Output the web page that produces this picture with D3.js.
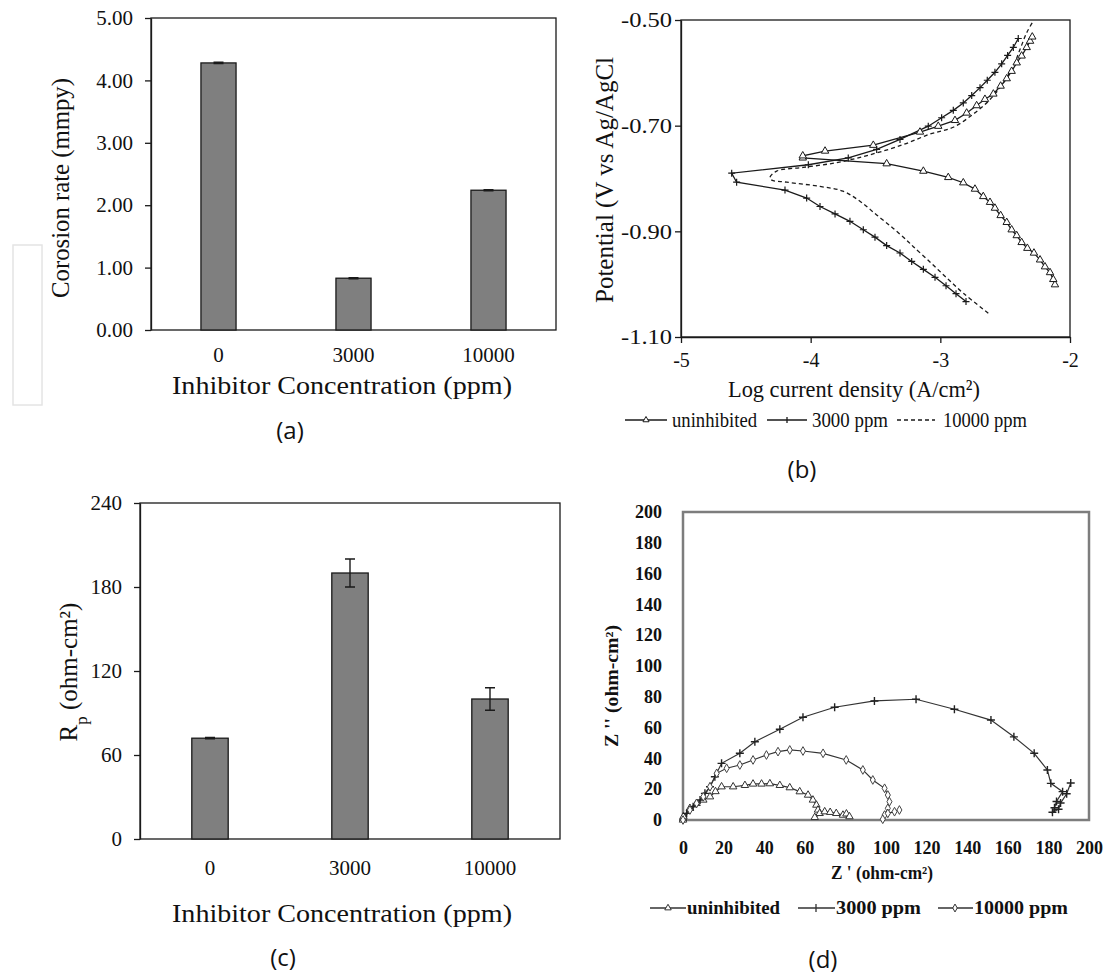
<!DOCTYPE html>
<html>
<head>
<meta charset="utf-8">
<script src="https://cdn.jsdelivr.net/npm/d3@7"></script>
<style>
  body { margin: 0; background: #fff; }
  text { fill: #111; }
</style>
</head>
<body>
<script>
// ---- data ----
const concLabels = ["0", "3000", "10000"];
const corrosionRate = [4.28, 0.83, 2.24];
const corrosionErr = [0.01, 0.01, 0.01];
const corrosionTicks = [0, 1, 2, 3, 4, 5];

const rpValues = [72, 190, 100];
const rpErr = [0.5, 10, 8];
const rpTicks = [0, 60, 120, 180, 240];

// Tafel curves: [log i, E] from cathodic end through Ecorr to anodic end
const tafelUninhibited = [
  [-2.116, -1.001], [-2.129, -0.991], [-2.154, -0.978], [-2.193, -0.967], [-2.231, -0.954],
  [-2.278, -0.941], [-2.329, -0.932], [-2.373, -0.921], [-2.411, -0.908], [-2.450, -0.897],
  [-2.488, -0.883], [-2.535, -0.870], [-2.579, -0.856], [-2.617, -0.845], [-2.669, -0.834],
  [-2.733, -0.820], [-2.823, -0.808], [-2.939, -0.798], [-3.131, -0.786], [-3.414, -0.772],
  [-4.061, -0.761], [-4.061, -0.757], [-3.889, -0.748], [-3.517, -0.737], [-3.157, -0.712],
  [-3.016, -0.701], [-2.887, -0.690], [-2.797, -0.676], [-2.720, -0.662], [-2.656, -0.650],
  [-2.591, -0.640], [-2.535, -0.625], [-2.488, -0.611], [-2.450, -0.597], [-2.411, -0.581],
  [-2.373, -0.568], [-2.334, -0.552], [-2.308, -0.540], [-2.291, -0.532]
];
const tafel3000 = [
  [-2.802, -1.033], [-2.879, -1.018], [-2.956, -1.003], [-3.041, -0.987], [-3.131, -0.972],
  [-3.221, -0.957], [-3.311, -0.941], [-3.414, -0.927], [-3.504, -0.911], [-3.594, -0.897],
  [-3.697, -0.881], [-3.812, -0.867], [-3.928, -0.853], [-4.031, -0.837], [-4.198, -0.822],
  [-4.571, -0.807], [-4.609, -0.790], [-4.018, -0.774], [-3.710, -0.761], [-3.491, -0.745],
  [-3.311, -0.726], [-3.093, -0.701], [-2.990, -0.685], [-2.900, -0.671], [-2.823, -0.657],
  [-2.758, -0.643], [-2.694, -0.628], [-2.638, -0.614], [-2.579, -0.599], [-2.527, -0.583],
  [-2.481, -0.567], [-2.437, -0.552], [-2.399, -0.535]
];
const tafel10000 = [
  [-2.630, -1.055], [-2.823, -1.017], [-2.951, -0.988], [-3.080, -0.958], [-3.208, -0.929],
  [-3.259, -0.917], [-3.365, -0.894], [-3.491, -0.869], [-3.620, -0.843], [-3.751, -0.824],
  [-3.928, -0.815], [-4.185, -0.807], [-4.300, -0.803], [-4.314, -0.798], [-4.262, -0.786],
  [-4.059, -0.779], [-3.799, -0.770], [-3.542, -0.755], [-3.288, -0.736], [-3.080, -0.716],
  [-2.900, -0.703], [-2.746, -0.678], [-2.615, -0.650], [-2.514, -0.619], [-2.437, -0.587],
  [-2.386, -0.556], [-2.334, -0.524], [-2.283, -0.502]
];
const tafelXTicks = [-5, -4, -3, -2];
const tafelYTicks = [-0.5, -0.7, -0.9, -1.1];

// Nyquist curves: [Z', Z'']
const nyqUninhibited = [
  [0, 0], [0.2, 2.2], [3.4, 7.6], [6.7, 10.8], [10, 13], [13.3, 15.1], [16, 18.5], [19, 21.6],
  [24.7, 21.6], [30.5, 22.5], [34.5, 23.4], [38.7, 23.4], [42.8, 23.6], [47.7, 22.5], [52.6, 21],
  [57.5, 18.4], [61.6, 16.2], [64, 13], [65.7, 9.7], [66.5, 6.5], [67.3, 4.3], [64.9, 1.7],
  [69.8, 5.4], [72.5, 5], [75.5, 4.3], [78.8, 3.2], [80.5, 4], [82, 2.2]
];
const nyq3000 = [
  [0, 0], [1.8, 4.3], [5, 8.6], [8.4, 13], [10.8, 17.3], [13.3, 21.6], [15.7, 28.1], [19, 36.8],
  [28, 43.3], [35.4, 50.8], [47.7, 58.9], [59.1, 66.7], [74.7, 73.2], [94.3, 77.3], [114.8, 78.4],
  [133.7, 71.9], [151.7, 64.9], [163, 54], [173, 43.3], [179.5, 32.5], [181.2, 23.8], [187, 18.4],
  [184, 12], [183, 8], [182, 5], [185, 7], [186, 11], [189, 17], [191, 24]
];
const nyq10000 = [
  [0, 0], [3.4, 6.5], [6.7, 10.8], [10, 15.1], [13.3, 21.6], [16.6, 30.3], [21.5, 33.6], [28, 35.7],
  [34.5, 39], [41.1, 42.2], [46.8, 44.4], [52.6, 45.5], [59.1, 44.8], [69, 43.3], [80.4, 39],
  [88.6, 32.5], [93.5, 26], [99.3, 20.6], [100.9, 16.2], [101.7, 11.9], [100.9, 7.6], [99.3, 3.2],
  [98.4, 0.5], [100.9, 4.3], [104.2, 5.4], [106.6, 6.5]
];
const nyqTicks = [0, 20, 40, 60, 80, 100, 120, 140, 160, 180, 200];

const serif = "'Liberation Serif', 'Times New Roman', serif";
const ink = "#1a1a1a";

const svg = d3.select("body").append("svg")
    .attr("width", 1105)
    .attr("height", 976);

// faint artifact box at the left of panel (a)
svg.append("rect")
    .attr("x", 13).attr("y", 245).attr("width", 29).attr("height", 160)
    .attr("fill", "none").attr("stroke", "#e4e4e4").attr("stroke-width", 1.5);

function panelLabel(txt, x, y) {
    svg.append("text")
        .attr("x", x).attr("y", y)
        .attr("text-anchor", "middle")
        .style("font-family", "'Open Sans', sans-serif")
        .style("font-size", "24px")
        .text(txt);
}

// plain centred title, squeezed to the reference width
function title(parent, txt, size, len) {
    return parent.append("text")
        .attr("text-anchor", "middle")
        .style("font-family", serif).style("font-size", size + "px")
        .attr("textLength", len).attr("lengthAdjust", "spacingAndGlyphs")
        .text(txt);
}

// ---- bar panels (a) and (c) ----
function drawBars(box, values, errs, ticks, fmt, cfg) {
    const x = d3.scaleBand().domain(concLabels).range([box.left, box.right]).padding(0);
    const y = d3.scaleLinear().domain([ticks[0], ticks[ticks.length - 1]]).range([box.bottom, box.top]);
    const g = svg.append("g");

    // frame
    g.append("rect")
        .attr("x", box.left).attr("y", box.top)
        .attr("width", box.right - box.left).attr("height", box.bottom - box.top)
        .attr("fill", "none").attr("stroke", ink).attr("stroke-width", 1.3);

    // y axis
    g.append("g")
        .attr("transform", `translate(${box.left},0)`)
        .call(d3.axisLeft(y).tickValues(ticks).tickFormat(fmt).tickSize(6).tickPadding(12).tickSizeOuter(0))
        .call(a => a.select(".domain").attr("stroke", ink).attr("stroke-width", 1.3))
        .call(a => a.selectAll("line").attr("stroke", ink).attr("stroke-width", 1.3))
        .call(a => a.selectAll("text").style("font-family", serif).style("font-size", "21px").attr("fill", "#111"));

    // category labels
    g.append("g")
        .attr("transform", `translate(0,${box.bottom})`)
        .call(d3.axisBottom(x).tickSize(0).tickPadding(cfg.catPad))
        .call(a => a.select(".domain").remove())
        .call(a => a.selectAll("text").style("font-family", serif).style("font-size", "21px").attr("fill", "#111"));

    const bw = x.bandwidth() * 0.26;
    g.selectAll(".bar")
        .data(values)
        .join("rect")
        .attr("x", (d, i) => x(concLabels[i]) + x.bandwidth() / 2 - bw / 2)
        .attr("y", d => y(d))
        .attr("width", bw)
        .attr("height", d => y(0) - y(d))
        .attr("fill", "#7f7f7f")
        .attr("stroke", ink)
        .attr("stroke-width", 1.3);

    // error bars
    values.forEach((v, i) => {
        const cx = x(concLabels[i]) + x.bandwidth() / 2;
        const y1 = y(v + errs[i]), y2 = y(v - errs[i]);
        g.append("path")
            .attr("d", `M${cx},${y1}V${y2}M${cx - 5},${y1}H${cx + 5}M${cx - 5},${y2}H${cx + 5}`)
            .attr("stroke", ink).attr("stroke-width", 1.4).attr("fill", "none");
    });

    // x title
    title(g, "Inhibitor Concentration (ppm)", 26, 340)
        .attr("x", 342).attr("y", cfg.xTitleY);

    // y title
    cfg.yTitle(g);

    panelLabel(cfg.label, cfg.labelX, cfg.labelY);
}

drawBars({left: 151, right: 556, top: 18, bottom: 330},
    corrosionRate, corrosionErr, corrosionTicks, d3.format(".2f"),
    {catPad: 17, xTitleY: 394,
     yTitle: g => title(g, "Corosion rate (mmpy)", 26, 220).attr("transform", "translate(69,188) rotate(-90)"),
     label: "(a)", labelX: 290, labelY: 439});

drawBars({left: 140, right: 560, top: 503, bottom: 839},
    rpValues, rpErr, rpTicks, d3.format("d"),
    {catPad: 21, xTitleY: 922,
     yTitle: g => {
         const t = g.append("text")
             .attr("transform", "translate(77,672) rotate(-90)")
             .attr("text-anchor", "middle")
             .style("font-family", serif).style("font-size", "25px");
         t.append("tspan").text("R");
         t.append("tspan").text("p").attr("baseline-shift", "sub").style("font-size", "17px");
         t.append("tspan").text(" (ohm-cm²)");
     },
     label: "(c)", labelX: 283, labelY: 966});

// ---- Tafel panel (b) ----
(function drawTafel() {
    const box = {left: 681, right: 1070, top: 20, bottom: 337};
    const x = d3.scaleLinear().domain([-5, -2]).range([box.left, box.right]);
    const y = d3.scaleLinear().domain([-1.1, -0.5]).range([box.bottom, box.top]);
    const g = svg.append("g");

    g.append("rect")
        .attr("x", box.left).attr("y", box.top)
        .attr("width", box.right - box.left).attr("height", box.bottom - box.top)
        .attr("fill", "none").attr("stroke", ink).attr("stroke-width", 1.3);

    g.append("g")
        .attr("transform", `translate(${box.left},0)`)
        .call(d3.axisLeft(y).tickValues(tafelYTicks).tickSize(6).tickPadding(3).tickSizeOuter(0))
        .call(a => a.select(".domain").attr("stroke", ink).attr("stroke-width", 1.3))
        .call(a => a.selectAll("line").attr("stroke", ink).attr("stroke-width", 1.3))
        .call(a => a.selectAll("text").style("font-family", serif).style("font-size", "21px").attr("fill", "#111")
            .text(d => d3.format(".2f")(d).replace("−", "-"))
            .attr("textLength", 51).attr("lengthAdjust", "spacingAndGlyphs"));

    g.append("g")
        .attr("transform", `translate(0,${box.bottom})`)
        .call(d3.axisBottom(x).tickValues(tafelXTicks).tickFormat(d => String(d)).tickSize(6).tickPadding(10).tickSizeOuter(0))
        .call(a => a.select(".domain").attr("stroke", ink).attr("stroke-width", 1.3))
        .call(a => a.selectAll("line").attr("stroke", ink).attr("stroke-width", 1.3))
        .call(a => a.selectAll("text").style("font-family", serif).style("font-size", "20px").attr("fill", "#111"));

    const line = d3.line().x(d => x(d[0])).y(d => y(d[1]));

    g.append("path").datum(tafel10000).attr("d", line.curve(d3.curveCatmullRom))
        .attr("fill", "none").attr("stroke", ink).attr("stroke-width", 1.3).attr("stroke-dasharray", "4,3");
    line.curve(d3.curveLinear);
    g.append("path").datum(tafelUninhibited).attr("d", line)
        .attr("fill", "none").attr("stroke", ink).attr("stroke-width", 1.3);
    g.append("path").datum(tafel3000).attr("d", line)
        .attr("fill", "none").attr("stroke", ink).attr("stroke-width", 1.3);

    const tri = d3.symbol(d3.symbolTriangle, 24);
    g.selectAll(".tri").data(tafelUninhibited).join("path")
        .attr("transform", d => `translate(${x(d[0])},${y(d[1])})`)
        .attr("d", tri).attr("fill", "#fff").attr("stroke", ink).attr("stroke-width", 1);
    g.selectAll(".plus").data(tafel3000).join("path")
        .attr("transform", d => `translate(${x(d[0])},${y(d[1])})`)
        .attr("d", "M-3.5,0H3.5M0,-3.5V3.5").attr("stroke", ink).attr("stroke-width", 1.2);

    title(g, "Log current density (A/cm²)", 24, 252).attr("x", 854).attr("y", 397);
    title(g, "Potential (V vs Ag/AgCl", 26, 246).attr("transform", "translate(613,180) rotate(-90)");

    // legend
    const ly = 420;
    const leg = g.append("g");
    leg.append("path").attr("d", `M625,${ly}H667`).attr("stroke", ink).attr("stroke-width", 1.3);
    leg.append("path").attr("transform", `translate(646,${ly})`).attr("d", d3.symbol(d3.symbolTriangle, 16))
        .attr("fill", "#fff").attr("stroke", ink);
    leg.append("path").attr("d", `M767,${ly}H807M787,${ly - 3}V${ly + 3}`).attr("stroke", ink).attr("stroke-width", 1.3);
    leg.append("path").attr("d", `M897,${ly}H935`).attr("stroke", ink).attr("stroke-width", 1.3).attr("stroke-dasharray", "4,3");
    [["uninhibited", 672, 85], ["3000 ppm", 812, 76], ["10000 ppm", 943, 84]].forEach(([t, lx, len]) => {
        leg.append("text").attr("x", lx).attr("y", ly + 7)
            .style("font-family", serif).style("font-size", "21px")
            .attr("textLength", len).attr("lengthAdjust", "spacingAndGlyphs")
            .text(t);
    });

    panelLabel("(b)", 802, 478);
})();

// ---- Nyquist panel (d) ----
(function drawNyquist() {
    const x = d3.scaleLinear().domain([0, 200]).range([683, 1089]);
    const y = d3.scaleLinear().domain([0, 200]).range([820, 512]);
    const g = svg.append("g");
    const bold = "font-weight:bold;font-family:" + serif;

    g.append("rect")
        .attr("x", x(0)).attr("y", y(200))
        .attr("width", x(200) - x(0)).attr("height", y(0) - y(200))
        .attr("fill", "none").attr("stroke", "#7d7d7d").attr("stroke-width", 2.5);

    g.append("g")
        .attr("transform", `translate(${x(0)},0)`)
        .call(d3.axisLeft(y).tickValues(nyqTicks).tickSize(0).tickPadding(21))
        .call(a => a.select(".domain").remove())
        .call(a => a.selectAll("text").attr("style", bold).style("font-size", "18px").attr("fill", "#222"));

    g.append("g")
        .attr("transform", `translate(0,${y(0)})`)
        .call(d3.axisBottom(x).tickValues(nyqTicks).tickSize(0).tickPadding(21))
        .call(a => a.select(".domain").remove())
        .call(a => a.selectAll("text").attr("style", bold).style("font-size", "18px").attr("fill", "#222"));

    const line = d3.line().x(d => x(d[0])).y(d => y(d[1]));
    [nyqUninhibited, nyq3000, nyq10000].forEach(s => {
        g.append("path").datum(s).attr("d", line)
            .attr("fill", "none").attr("stroke", "#333").attr("stroke-width", 1.2);
    });

    g.selectAll(".tri").data(nyqUninhibited).join("path")
        .attr("transform", d => `translate(${x(d[0])},${y(d[1])})`)
        .attr("d", d3.symbol(d3.symbolTriangle, 24)).attr("fill", "#fff").attr("stroke", "#333").attr("stroke-width", 1);
    g.selectAll(".plus").data(nyq3000).join("path")
        .attr("transform", d => `translate(${x(d[0])},${y(d[1])})`)
        .attr("d", "M-4,0H4M0,-4V4").attr("stroke", "#222").attr("stroke-width", 1.4);
    g.selectAll(".dia").data(nyq10000).join("path")
        .attr("transform", d => `translate(${x(d[0])},${y(d[1])})`)
        .attr("d", d3.symbol(d3.symbolDiamond, 22)).attr("fill", "#fff").attr("stroke", "#444").attr("stroke-width", 1);

    title(g, "Z ' (ohm-cm²)", 18, 102).attr("x", 882).attr("y", 879).style("font-weight", "bold");
    title(g, "Z '' (ohm-cm²)", 18, 122).attr("transform", "translate(618,686) rotate(-90)").style("font-weight", "bold");

    // legend
    const ly = 908;
    g.append("path").attr("d", `M650,${ly}H686`).attr("stroke", "#333").attr("stroke-width", 1.3);
    g.append("path").attr("transform", `translate(668,${ly})`).attr("d", d3.symbol(d3.symbolTriangle, 18))
        .attr("fill", "#fff").attr("stroke", "#333");
    g.append("path").attr("d", `M798,${ly}H835M816,${ly - 4}V${ly + 4}`).attr("stroke", "#333").attr("stroke-width", 1.3);
    g.append("path").attr("d", `M938,${ly}H973`).attr("stroke", "#333").attr("stroke-width", 1.3);
    g.append("path").attr("transform", `translate(955,${ly})`).attr("d", d3.symbol(d3.symbolDiamond, 18))
        .attr("fill", "#fff").attr("stroke", "#333");
    [["uninhibited", 687, 93], ["3000 ppm", 836, 85], ["10000 ppm", 974, 94]].forEach(([t, lx, len]) => {
        g.append("text").attr("x", lx).attr("y", ly + 6)
            .attr("style", bold).style("font-size", "18px")
            .attr("textLength", len).attr("lengthAdjust", "spacingAndGlyphs")
            .text(t);
    });

    panelLabel("(d)", 823, 968);
})();
</script>
</body>
</html>
